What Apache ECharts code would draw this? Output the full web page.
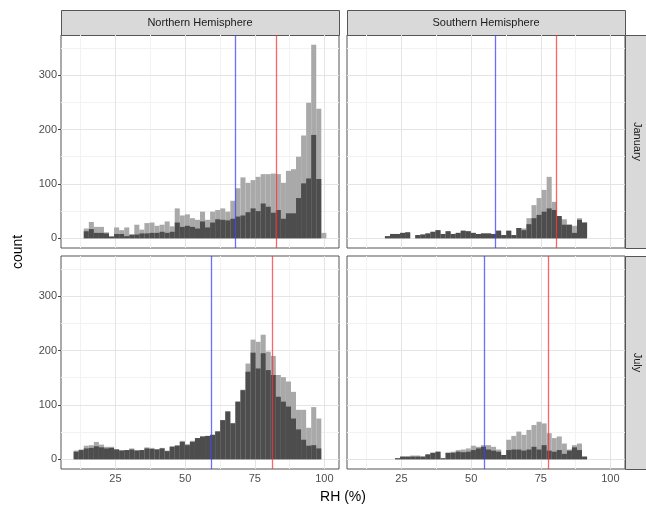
<!DOCTYPE html>
<html>
<head>
<meta charset="utf-8">
<script src="https://cdn.jsdelivr.net/npm/echarts@6/dist/echarts.min.js"></script>
<style>
html, body { margin: 0; padding: 0; background: #fff; }
#main { width: 646px; height: 511px; }
</style>
</head>
<body>
<div id="main"></div>
<script>
// histogram bins of RH (%): 50 bins
var binStart = 9.98;
var binWidth = 1.8144;

// counts per bin (k = 0..49). "All" = light grey bars, "Sub" = dark grey bars
var nhJanAll = [0, 0, 18, 30, 21, 21, 11, 4, 20, 15,
    20, 8, 25, 16, 28, 29, 23, 25, 31, 22,
    55, 42, 44, 37, 34, 49, 34, 49, 52, 55,
    49, 69, 92, 112, 102, 107, 113, 118, 118, 119,
    118, 102, 124, 127, 150, 189, 249, 356, 238, 10];
var nhJanSub = [0, 0, 13, 17, 10, 10, 9, 3, 8, 8,
    4, 6, 7, 9, 9, 10, 10, 12, 10, 12,
    29, 21, 23, 21, 18, 31, 20, 29, 35, 34,
    33, 36, 40, 42, 48, 55, 50, 64, 58, 47,
    52, 36, 46, 46, 74, 101, 110, 190, 109, 0];

var shJanAll = [0, 0, 0, 0, 0, 4, 8, 8, 10, 11,
    0, 6, 7, 9, 12, 15, 8, 13, 8, 10,
    14, 13, 10, 8, 9, 9, 8, 14, 6, 14,
    6, 19, 18, 37, 61, 74, 89, 113, 67, 37,
    35, 25, 23, 37, 29, 0, 0, 0, 0, 0];
var shJanSub = [0, 0, 0, 0, 0, 4, 8, 8, 10, 11,
    0, 6, 7, 9, 12, 15, 8, 13, 8, 10,
    14, 13, 10, 8, 9, 9, 8, 14, 6, 14,
    6, 19, 15, 26, 37, 43, 49, 55, 52, 41,
    25, 25, 10, 34, 29, 0, 0, 0, 0, 0];

var nhJulAll = [16, 18, 25, 26, 32, 27, 23, 23, 19, 17,
    17, 20, 17, 17, 22, 21, 19, 21, 16, 24,
    26, 34, 28, 34, 39, 42, 43, 45, 52, 72,
    88, 67, 106, 128, 176, 220, 216, 229, 198, 190,
    155, 151, 143, 124, 91, 91, 58, 96, 75, 0];
var nhJulSub = [14, 17, 20, 21, 24, 22, 20, 21, 18, 16,
    17, 18, 16, 17, 20, 19, 18, 20, 15, 23,
    25, 32, 26, 32, 39, 42, 43, 45, 51, 72,
    88, 66, 106, 127, 161, 196, 167, 195, 164, 155,
    115, 106, 97, 75, 55, 36, 25, 26, 20, 0];

var shJulAll = [0, 0, 0, 0, 0, 0, 0, 2, 5, 5,
    7, 7, 5, 9, 12, 14, 2, 12, 14, 17,
    18, 20, 25, 23, 26, 26, 23, 18, 8, 36,
    43, 51, 45, 54, 63, 69, 66, 48, 39, 42,
    29, 18, 26, 29, 5, 0, 0, 0, 0, 0];
var shJulSub = [0, 0, 0, 0, 0, 0, 0, 2, 5, 5,
    5, 5, 5, 9, 12, 14, 2, 12, 12, 14,
    13, 14, 17, 20, 23, 18, 16, 14, 8, 17,
    18, 18, 16, 18, 23, 18, 26, 16, 14, 17,
    10, 16, 22, 17, 5, 0, 0, 0, 0, 0];

// vertical reference lines, order: NH Jan, SH Jan, NH Jul, SH Jul
var blueLines = [67.9, 58.5, 59.5, 54.6];
var redLines = [82.8, 80.4, 81.4, 77.8];

var hemispheres = ['Northern Hemisphere', 'Southern Hemisphere'];
var months = ['January', 'July'];
var xTicks = [25, 50, 75, 100];
var xMinor = [12.5, 37.5, 62.5, 87.5];
var yTicks = [0, 100, 200, 300];
var yMinor = [50, 150, 250, 350];

var panels = [
    { all: nhJanAll, sub: nhJanSub },
    { all: shJanAll, sub: shJanSub },
    { all: nhJulAll, sub: nhJulSub },
    { all: shJulAll, sub: shJulSub }
];

var xMin = 5.44, xMax = 105.24;
var yMin = -17.8, yMax = 373.7;
var panelW = 278, panelH = 213;
var gridPos = [[61, 35], [347, 35], [61, 256], [347, 256]];

function toBins(counts) {
    var out = [];
    for (var k = 0; k < counts.length; k++) {
        if (counts[k] > 0) {
            out.push([binStart + k * binWidth, binStart + (k + 1) * binWidth, counts[k]]);
        }
    }
    return out;
}

function renderBar(params, api) {
    var p0 = api.coord([api.value(0), 0]);
    var p1 = api.coord([api.value(1), api.value(2)]);
    return {
        type: 'rect',
        shape: { x: p0[0], y: p1[1], width: p1[0] - p0[0], height: p0[1] - p1[1] },
        style: { fill: api.visual('color') }
    };
}

// background grid, drawn under the bars
function gridLines() {
    var d = [];
    var minor = { color: '#F2F2F2', width: 1, type: 'solid' };
    var major = { color: '#E4E4E4', width: 1, type: 'solid' };
    xMinor.forEach(function (v) { d.push({ xAxis: v, lineStyle: minor }); });
    yMinor.forEach(function (v) { d.push({ yAxis: v, lineStyle: minor }); });
    xTicks.forEach(function (v) { d.push({ xAxis: v, lineStyle: major }); });
    yTicks.forEach(function (v) { d.push({ yAxis: v, lineStyle: major }); });
    return d;
}

var grids = [], xAxes = [], yAxes = [], series = [], graphics = [];

panels.forEach(function (p, i) {
    var bottom = i >= 2, left = i % 2 === 0;
    grids.push({
        left: gridPos[i][0], top: gridPos[i][1], width: panelW, height: panelH,
        show: true, borderColor: '#555555', borderWidth: 1, backgroundColor: '#ffffff'
    });
    xAxes.push({
        gridIndex: i, type: 'value', min: xMin, max: xMax,
        axisLine: { show: false },
        splitLine: { show: false },
        axisTick: { show: bottom, customValues: xTicks, length: 3, lineStyle: { color: '#444444' } },
        axisLabel: { show: bottom, customValues: xTicks, color: '#4D4D4D', fontSize: 11, margin: 4, fontFamily: 'Liberation Sans' }
    });
    yAxes.push({
        gridIndex: i, type: 'value', min: yMin, max: yMax,
        axisLine: { show: false },
        splitLine: { show: false },
        axisTick: { show: left, customValues: yTicks, length: 3, lineStyle: { color: '#444444' } },
        axisLabel: { show: left, customValues: yTicks, color: '#4D4D4D', fontSize: 11, margin: 4, fontFamily: 'Liberation Sans' }
    });
    series.push({
        type: 'custom', xAxisIndex: i, yAxisIndex: i, z: 2,
        renderItem: renderBar, encode: { x: [0, 1], y: 2 },
        itemStyle: { color: '#A9A9A9' },
        data: toBins(p.all),
        markLine: {
            silent: true, symbol: 'none', z: 1, animation: false,
            label: { show: false },
            data: gridLines()
        }
    });
    series.push({
        type: 'custom', xAxisIndex: i, yAxisIndex: i, z: 3,
        renderItem: renderBar, encode: { x: [0, 1], y: 2 },
        itemStyle: { color: '#4D4D4D' },
        data: toBins(p.sub),
        markLine: {
            silent: true, symbol: 'none', z: 4, animation: false,
            label: { show: false },
            data: [
                { xAxis: blueLines[i], lineStyle: { color: 'rgba(60,60,255,0.75)', width: 1.3, type: 'solid' } },
                { xAxis: redLines[i], lineStyle: { color: 'rgba(255,50,50,0.75)', width: 1.3, type: 'solid' } }
            ]
        }
    });
});

// facet strips
hemispheres.forEach(function (name, c) {
    graphics.push({
        type: 'rect', left: gridPos[c][0], top: 10, silent: true,
        shape: { width: panelW, height: 25 },
        style: { fill: '#D9D9D9', stroke: '#555555', lineWidth: 1 }
    });
    graphics.push({
        type: 'text', x: gridPos[c][0] + panelW / 2, y: 22.5, silent: true,
        style: { text: name, fill: '#1A1A1A', font: '11px "Liberation Sans"', align: 'center', verticalAlign: 'middle' }
    });
});
months.forEach(function (name, r) {
    var top = gridPos[r * 2][1];
    graphics.push({
        type: 'rect', left: 625, top: top, silent: true,
        shape: { width: 25, height: panelH },
        style: { fill: '#D9D9D9', stroke: '#555555', lineWidth: 1 }
    });
    graphics.push({
        type: 'text', x: 637.5, y: top + panelH / 2, rotation: -Math.PI / 2, silent: true,
        style: { text: name, fill: '#1A1A1A', font: '11px "Liberation Sans"', align: 'center', verticalAlign: 'middle' }
    });
});
// axis titles
graphics.push({
    type: 'text', x: 18, y: 252, rotation: Math.PI / 2, silent: true,
    style: { text: 'count', fill: '#000', font: '14px "Liberation Sans"', align: 'center', verticalAlign: 'middle' }
});
graphics.push({
    type: 'text', x: 343, y: 497, silent: true,
    style: { text: 'RH (%)', fill: '#000', font: '14px "Liberation Sans"', align: 'center', verticalAlign: 'middle' }
});

var myChart = echarts.init(document.getElementById('main'));
var option = {
    animation: false,
    backgroundColor: '#ffffff',
    grid: grids,
    xAxis: xAxes,
    yAxis: yAxes,
    series: series,
    graphic: graphics
};
myChart.setOption(option);
</script>
</body>
</html>
